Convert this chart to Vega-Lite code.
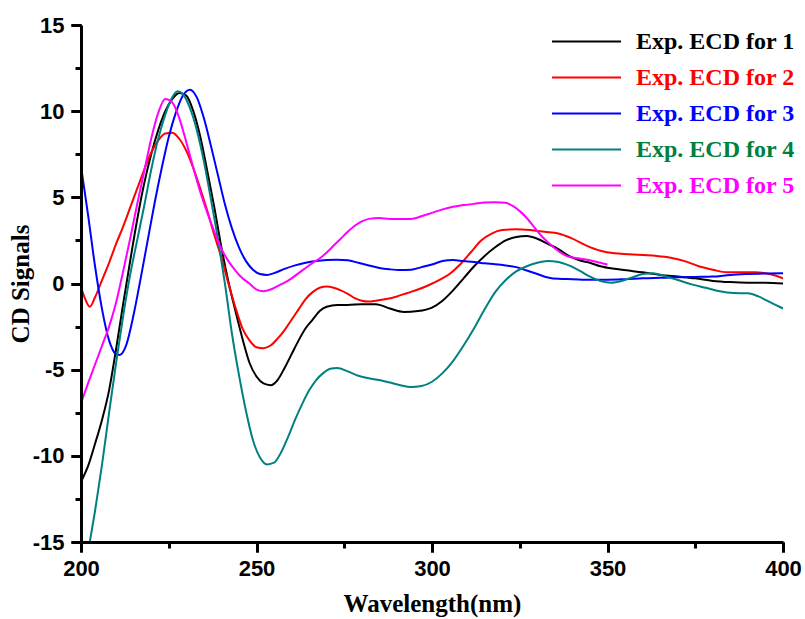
{
"$schema": "https://vega.github.io/schema/vega-lite/v6.json",
"width": 702, "height": 517,
"autosize": "none",
"padding": {"left": 81, "top": 25, "right": 22, "bottom": 77},
"background": "white",
"config": {"view": {"stroke": null}},
"datasets": {"d": [
{"s":1,"w":200,"v":-11.5},{"s":1,"w":202,"v":-10.6},{"s":1,"w":204,"v":-9.3},{"s":1,"w":206,"v":-7.9},{"s":1,"w":208,"v":-6.2},{"s":1,"w":210,"v":-3.8},{"s":1,"w":212,"v":-1.2},{"s":1,"w":214,"v":1.3},{"s":1,"w":216,"v":3.7},{"s":1,"w":218,"v":5.8},{"s":1,"w":220,"v":7.5},{"s":1,"w":222,"v":8.9},{"s":1,"w":224,"v":10.0},{"s":1,"w":226,"v":10.7},{"s":1,"w":228,"v":11.05},{"s":1,"w":230,"v":10.9},{"s":1,"w":232,"v":10.0},{"s":1,"w":234,"v":8.5},{"s":1,"w":236,"v":6.5},{"s":1,"w":238,"v":4.4},{"s":1,"w":240,"v":2.1},{"s":1,"w":242,"v":0.1},{"s":1,"w":244,"v":-1.6},{"s":1,"w":246,"v":-3.2},{"s":1,"w":248,"v":-4.6},{"s":1,"w":250,"v":-5.4},{"s":1,"w":252,"v":-5.8},{"s":1,"w":254,"v":-5.9},{"s":1,"w":256,"v":-5.6},{"s":1,"w":258,"v":-4.9},{"s":1,"w":260,"v":-4.1},{"s":1,"w":262,"v":-3.3},{"s":1,"w":264,"v":-2.6},{"s":1,"w":266,"v":-2.1},{"s":1,"w":268,"v":-1.6},{"s":1,"w":270,"v":-1.35},{"s":1,"w":273,"v":-1.25},{"s":1,"w":276,"v":-1.25},{"s":1,"w":280,"v":-1.2},{"s":1,"w":284,"v":-1.2},{"s":1,"w":288,"v":-1.45},{"s":1,"w":292,"v":-1.65},{"s":1,"w":296,"v":-1.6},{"s":1,"w":300,"v":-1.4},{"s":1,"w":303,"v":-1.0},{"s":1,"w":306,"v":-0.4},{"s":1,"w":309,"v":0.3},{"s":1,"w":312,"v":1.0},{"s":1,"w":315,"v":1.6},{"s":1,"w":318,"v":2.1},{"s":1,"w":321,"v":2.5},{"s":1,"w":324,"v":2.7},{"s":1,"w":327,"v":2.75},{"s":1,"w":330,"v":2.6},{"s":1,"w":333,"v":2.3},{"s":1,"w":336,"v":2.0},{"s":1,"w":339,"v":1.6},{"s":1,"w":342,"v":1.35},{"s":1,"w":345,"v":1.2},{"s":1,"w":348,"v":1.0},{"s":1,"w":352,"v":0.85},{"s":1,"w":356,"v":0.75},{"s":1,"w":360,"v":0.65},{"s":1,"w":365,"v":0.5},{"s":1,"w":370,"v":0.4},{"s":1,"w":375,"v":0.3},{"s":1,"w":380,"v":0.15},{"s":1,"w":385,"v":0.08},{"s":1,"w":390,"v":0.05},{"s":1,"w":395,"v":0.05},{"s":1,"w":400,"v":0.0},
{"s":2,"w":200,"v":-0.2},{"s":2,"w":201,"v":-0.8},{"s":2,"w":202.5,"v":-1.35},{"s":2,"w":204,"v":-0.8},{"s":2,"w":206,"v":0.2},{"s":2,"w":208,"v":1.2},{"s":2,"w":210,"v":2.3},{"s":2,"w":212,"v":3.3},{"s":2,"w":214,"v":4.4},{"s":2,"w":216,"v":5.5},{"s":2,"w":218,"v":6.6},{"s":2,"w":220,"v":7.6},{"s":2,"w":222,"v":8.3},{"s":2,"w":224,"v":8.7},{"s":2,"w":226,"v":8.75},{"s":2,"w":228,"v":8.4},{"s":2,"w":230,"v":7.7},{"s":2,"w":232,"v":6.7},{"s":2,"w":234,"v":5.5},{"s":2,"w":236,"v":4.2},{"s":2,"w":238,"v":2.8},{"s":2,"w":240,"v":1.5},{"s":2,"w":242,"v":0.0},{"s":2,"w":244,"v":-1.4},{"s":2,"w":246,"v":-2.6},{"s":2,"w":248,"v":-3.3},{"s":2,"w":250,"v":-3.7},{"s":2,"w":252,"v":-3.75},{"s":2,"w":254,"v":-3.6},{"s":2,"w":256,"v":-3.2},{"s":2,"w":258,"v":-2.7},{"s":2,"w":260,"v":-2.1},{"s":2,"w":262,"v":-1.5},{"s":2,"w":264,"v":-0.9},{"s":2,"w":266,"v":-0.5},{"s":2,"w":268,"v":-0.25},{"s":2,"w":270,"v":-0.18},{"s":2,"w":272,"v":-0.25},{"s":2,"w":274,"v":-0.4},{"s":2,"w":276,"v":-0.6},{"s":2,"w":278,"v":-0.85},{"s":2,"w":280,"v":-1.0},{"s":2,"w":282,"v":-1.05},{"s":2,"w":284,"v":-1.0},{"s":2,"w":287,"v":-0.9},{"s":2,"w":290,"v":-0.75},{"s":2,"w":293,"v":-0.55},{"s":2,"w":296,"v":-0.35},{"s":2,"w":299,"v":-0.1},{"s":2,"w":302,"v":0.2},{"s":2,"w":305,"v":0.55},{"s":2,"w":308,"v":1.1},{"s":2,"w":311,"v":1.8},{"s":2,"w":314,"v":2.5},{"s":2,"w":317,"v":2.9},{"s":2,"w":320,"v":3.1},{"s":2,"w":324,"v":3.15},{"s":2,"w":328,"v":3.1},{"s":2,"w":332,"v":3.0},{"s":2,"w":336,"v":2.9},{"s":2,"w":340,"v":2.6},{"s":2,"w":344,"v":2.2},{"s":2,"w":348,"v":1.9},{"s":2,"w":352,"v":1.75},{"s":2,"w":356,"v":1.7},{"s":2,"w":360,"v":1.65},{"s":2,"w":364,"v":1.6},{"s":2,"w":368,"v":1.5},{"s":2,"w":372,"v":1.3},{"s":2,"w":376,"v":1.0},{"s":2,"w":380,"v":0.8},{"s":2,"w":384,"v":0.65},{"s":2,"w":388,"v":0.65},{"s":2,"w":392,"v":0.65},{"s":2,"w":395,"v":0.6},{"s":2,"w":398,"v":0.45},{"s":2,"w":400,"v":0.3},
{"s":3,"w":200,"v":6.8},{"s":3,"w":202,"v":4.0},{"s":3,"w":204,"v":1.0},{"s":3,"w":206,"v":-1.5},{"s":3,"w":208,"v":-3.3},{"s":3,"w":210,"v":-4.1},{"s":3,"w":211,"v":-4.15},{"s":3,"w":213,"v":-3.5},{"s":3,"w":215,"v":-1.8},{"s":3,"w":217,"v":0.3},{"s":3,"w":219,"v":2.5},{"s":3,"w":221,"v":4.7},{"s":3,"w":223,"v":6.7},{"s":3,"w":225,"v":8.5},{"s":3,"w":227,"v":9.9},{"s":3,"w":229,"v":10.9},{"s":3,"w":231,"v":11.25},{"s":3,"w":233,"v":10.8},{"s":3,"w":235,"v":9.6},{"s":3,"w":237,"v":8.0},{"s":3,"w":239,"v":6.3},{"s":3,"w":241,"v":4.6},{"s":3,"w":243,"v":3.2},{"s":3,"w":245,"v":2.1},{"s":3,"w":247,"v":1.3},{"s":3,"w":249,"v":0.8},{"s":3,"w":251,"v":0.55},{"s":3,"w":253,"v":0.5},{"s":3,"w":255,"v":0.6},{"s":3,"w":258,"v":0.85},{"s":3,"w":261,"v":1.05},{"s":3,"w":264,"v":1.2},{"s":3,"w":267,"v":1.3},{"s":3,"w":270,"v":1.36},{"s":3,"w":273,"v":1.38},{"s":3,"w":276,"v":1.35},{"s":3,"w":279,"v":1.2},{"s":3,"w":282,"v":1.05},{"s":3,"w":285,"v":0.9},{"s":3,"w":288,"v":0.82},{"s":3,"w":291,"v":0.78},{"s":3,"w":294,"v":0.8},{"s":3,"w":297,"v":0.95},{"s":3,"w":300,"v":1.1},{"s":3,"w":303,"v":1.3},{"s":3,"w":306,"v":1.36},{"s":3,"w":309,"v":1.3},{"s":3,"w":312,"v":1.25},{"s":3,"w":315,"v":1.17},{"s":3,"w":318,"v":1.12},{"s":3,"w":321,"v":1.05},{"s":3,"w":324,"v":0.95},{"s":3,"w":327,"v":0.75},{"s":3,"w":330,"v":0.55},{"s":3,"w":333,"v":0.35},{"s":3,"w":336,"v":0.27},{"s":3,"w":340,"v":0.25},{"s":3,"w":345,"v":0.22},{"s":3,"w":350,"v":0.22},{"s":3,"w":355,"v":0.25},{"s":3,"w":360,"v":0.3},{"s":3,"w":365,"v":0.33},{"s":3,"w":370,"v":0.36},{"s":3,"w":375,"v":0.38},{"s":3,"w":380,"v":0.4},{"s":3,"w":385,"v":0.5},{"s":3,"w":390,"v":0.55},{"s":3,"w":395,"v":0.58},{"s":3,"w":400,"v":0.6},
{"s":4,"w":202.5,"v":-15},{"s":4,"w":204,"v":-13.2},{"s":4,"w":206,"v":-10.5},{"s":4,"w":208,"v":-7.5},{"s":4,"w":210,"v":-4.6},{"s":4,"w":212,"v":-1.9},{"s":4,"w":214,"v":0.5},{"s":4,"w":216,"v":2.5},{"s":4,"w":218,"v":4.5},{"s":4,"w":220,"v":6.6},{"s":4,"w":222,"v":8.4},{"s":4,"w":224,"v":9.8},{"s":4,"w":226,"v":10.8},{"s":4,"w":227.5,"v":11.15},{"s":4,"w":229,"v":11.0},{"s":4,"w":231,"v":10.2},{"s":4,"w":233,"v":8.9},{"s":4,"w":235,"v":7.1},{"s":4,"w":237,"v":4.9},{"s":4,"w":239,"v":2.6},{"s":4,"w":241,"v":0.0},{"s":4,"w":243,"v":-2.9},{"s":4,"w":245,"v":-5.3},{"s":4,"w":247,"v":-7.4},{"s":4,"w":249,"v":-9.1},{"s":4,"w":251,"v":-10.1},{"s":4,"w":253,"v":-10.5},{"s":4,"w":255,"v":-10.4},{"s":4,"w":257,"v":-9.8},{"s":4,"w":259,"v":-8.9},{"s":4,"w":261,"v":-7.9},{"s":4,"w":263,"v":-7.0},{"s":4,"w":265,"v":-6.2},{"s":4,"w":267,"v":-5.6},{"s":4,"w":269,"v":-5.2},{"s":4,"w":271,"v":-4.95},{"s":4,"w":273,"v":-4.9},{"s":4,"w":276,"v":-5.1},{"s":4,"w":279,"v":-5.35},{"s":4,"w":282,"v":-5.5},{"s":4,"w":285,"v":-5.6},{"s":4,"w":288,"v":-5.75},{"s":4,"w":291,"v":-5.9},{"s":4,"w":294,"v":-6.0},{"s":4,"w":297,"v":-5.95},{"s":4,"w":300,"v":-5.7},{"s":4,"w":303,"v":-5.2},{"s":4,"w":306,"v":-4.5},{"s":4,"w":309,"v":-3.6},{"s":4,"w":312,"v":-2.6},{"s":4,"w":315,"v":-1.5},{"s":4,"w":318,"v":-0.5},{"s":4,"w":321,"v":0.2},{"s":4,"w":324,"v":0.7},{"s":4,"w":327,"v":1.0},{"s":4,"w":330,"v":1.2},{"s":4,"w":333,"v":1.3},{"s":4,"w":336,"v":1.25},{"s":4,"w":339,"v":1.05},{"s":4,"w":342,"v":0.75},{"s":4,"w":345,"v":0.4},{"s":4,"w":348,"v":0.15},{"s":4,"w":351,"v":0.05},{"s":4,"w":354,"v":0.15},{"s":4,"w":357,"v":0.35},{"s":4,"w":360,"v":0.55},{"s":4,"w":363,"v":0.6},{"s":4,"w":366,"v":0.45},{"s":4,"w":370,"v":0.2},{"s":4,"w":374,"v":-0.05},{"s":4,"w":378,"v":-0.25},{"s":4,"w":382,"v":-0.45},{"s":4,"w":386,"v":-0.55},{"s":4,"w":390,"v":-0.57},{"s":4,"w":393,"v":-0.75},{"s":4,"w":396,"v":-1.05},{"s":4,"w":398,"v":-1.25},{"s":4,"w":400,"v":-1.45},
{"s":5,"w":200,"v":-6.95},{"s":5,"w":202,"v":-5.8},{"s":5,"w":204,"v":-4.7},{"s":5,"w":206,"v":-3.6},{"s":5,"w":208,"v":-2.5},{"s":5,"w":210,"v":-1.1},{"s":5,"w":212,"v":0.7},{"s":5,"w":214,"v":2.6},{"s":5,"w":216,"v":4.6},{"s":5,"w":218,"v":6.5},{"s":5,"w":220,"v":8.4},{"s":5,"w":222,"v":9.9},{"s":5,"w":224,"v":10.7},{"s":5,"w":226,"v":10.5},{"s":5,"w":228,"v":9.6},{"s":5,"w":230,"v":8.2},{"s":5,"w":232,"v":6.7},{"s":5,"w":234,"v":5.3},{"s":5,"w":236,"v":4.1},{"s":5,"w":238,"v":3.0},{"s":5,"w":240,"v":2.0},{"s":5,"w":242,"v":1.3},{"s":5,"w":244,"v":0.75},{"s":5,"w":246,"v":0.3},{"s":5,"w":248,"v":0.0},{"s":5,"w":250,"v":-0.35},{"s":5,"w":252,"v":-0.45},{"s":5,"w":254,"v":-0.35},{"s":5,"w":256,"v":-0.15},{"s":5,"w":258,"v":0.05},{"s":5,"w":260,"v":0.3},{"s":5,"w":262,"v":0.6},{"s":5,"w":264,"v":0.9},{"s":5,"w":266,"v":1.2},{"s":5,"w":268,"v":1.45},{"s":5,"w":270,"v":1.8},{"s":5,"w":272,"v":2.2},{"s":5,"w":274,"v":2.6},{"s":5,"w":276,"v":3.0},{"s":5,"w":278,"v":3.35},{"s":5,"w":280,"v":3.6},{"s":5,"w":282,"v":3.75},{"s":5,"w":285,"v":3.8},{"s":5,"w":288,"v":3.75},{"s":5,"w":291,"v":3.75},{"s":5,"w":294,"v":3.75},{"s":5,"w":297,"v":3.9},{"s":5,"w":300,"v":4.1},{"s":5,"w":303,"v":4.3},{"s":5,"w":306,"v":4.45},{"s":5,"w":309,"v":4.55},{"s":5,"w":312,"v":4.62},{"s":5,"w":315,"v":4.7},{"s":5,"w":318,"v":4.72},{"s":5,"w":321,"v":4.68},{"s":5,"w":323,"v":4.5},{"s":5,"w":325,"v":4.2},{"s":5,"w":327,"v":3.8},{"s":5,"w":329,"v":3.3},{"s":5,"w":331,"v":2.8},{"s":5,"w":333,"v":2.4},{"s":5,"w":335,"v":2.05},{"s":5,"w":337,"v":1.75},{"s":5,"w":339,"v":1.55},{"s":5,"w":342,"v":1.45},{"s":5,"w":345,"v":1.35},{"s":5,"w":348,"v":1.2},{"s":5,"w":350,"v":1.1}
]},
"data": {"name": "d"},
"resolve": {"axis": {"x": "independent", "y": "independent"}},
"layer": [
{
"mark": {"type": "point", "opacity": 0},
"encoding": {
  "x": {"field": "w", "type": "quantitative",
    "scale": {"domain": [200, 400], "nice": false, "zero": false},
    "axis": {"orient": "bottom", "values": [200,250,300,350,400], "labels": false, "domain": false, "ticks": true,
      "tickSize": 10, "tickWidth": 3, "tickColor": "black", "tickOpacity": 1, "grid": false, "title": null, "zindex": 1}},
  "y": {"field": "v", "type": "quantitative",
    "scale": {"domain": [-15, 15], "nice": false, "zero": false},
    "axis": {"orient": "left", "values": [-15,-10,-5,0,5,10,15], "labels": false, "domain": false, "ticks": true,
      "tickSize": 10, "tickWidth": 3, "tickColor": "black", "tickOpacity": 1, "grid": false, "title": null, "zindex": 1}}
}
},
{
"mark": {"type": "point", "opacity": 0},
"encoding": {
  "x": {"field": "w", "type": "quantitative",
    "axis": {"orient": "bottom", "values": [225,275,325,375], "labels": false, "domain": false, "ticks": true,
      "tickSize": 6, "tickWidth": 3, "tickColor": "black", "tickOpacity": 1, "grid": false, "title": null, "zindex": 1}},
  "y": {"field": "v", "type": "quantitative",
    "axis": {"orient": "left", "values": [-12.5,-7.5,-2.5,2.5,7.5,12.5], "labels": false, "domain": false, "ticks": true,
      "tickSize": 6, "tickWidth": 3, "tickColor": "black", "tickOpacity": 1, "grid": false, "title": null, "zindex": 1}}
}
},
{
"mark": {"type": "line", "strokeWidth": 2, "interpolate": "monotone", "clip": true},
"encoding": {
  "x": {"field": "w", "type": "quantitative",
    "axis": {"orient": "bottom", "values": [200,250,300,350,400], "ticks": true, "zindex": 1,
      "tickSize": 10, "tickWidth": 3, "tickColor": "black", "tickOpacity": 1, "domainColor": "black", "domainWidth": 3,
      "grid": false, "labelFont": "Liberation Sans", "labelFontWeight": "bold", "labelFontSize": 22,
      "labelColor": "black", "labelPadding": 6, "labelFlush": false,
      "title": "Wavelength(nm)", "titleFont": "Liberation Serif", "titleFontWeight": "bold",
      "titleFontSize": 25, "titleColor": "black", "titlePadding": 12}},
  "y": {"field": "v", "type": "quantitative",
    "axis": {"orient": "left", "values": [-15,-10,-5,0,5,10,15], "ticks": true, "zindex": 1,
      "labelExpr": "toString(datum.value)",
      "tickSize": 10, "tickWidth": 3, "tickColor": "black", "tickOpacity": 1, "domainColor": "black", "domainWidth": 3,
      "grid": false, "labelFont": "Liberation Sans", "labelFontWeight": "bold", "labelFontSize": 22,
      "labelColor": "black", "labelPadding": 7, "labelFlush": false,
      "title": "CD Signals", "titleFont": "Liberation Serif", "titleFontWeight": "bold",
      "titleFontSize": 25, "titleColor": "black", "titlePadding": -1}},
  "color": {"field": "s", "type": "nominal",
    "scale": {"domain": [1,2,3,4,5], "range": ["#000000","#FF0000","#0000FF","#008080","#FF00FF"]},
    "legend": {"orient": "none", "legendX": 470, "legendY": 4, "title": null,
      "symbolType": "M-1,0H5", "symbolSize": 529, "symbolStrokeWidth": 2, "symbolFillColor": "transparent",
      "labelExpr": "'Exp. ECD for ' + datum.label",
      "labelFont": "Liberation Serif", "labelFontWeight": "bold", "labelFontSize": 24,
      "labelOffset": 60, "labelLimit": 300, "rowPadding": 11,
      "encode": {
        "labels": {"update": {"fill": {"signal": "datum.value == 4 ? '#00803F' : scale('color', datum.value)"}}},
        "symbols": {"update": {"stroke": {"signal": "datum.value == 4 ? '#00803F' : scale('color', datum.value)"}, "fill": {"value": "transparent"}}}
      }}}
}
}
]
}
